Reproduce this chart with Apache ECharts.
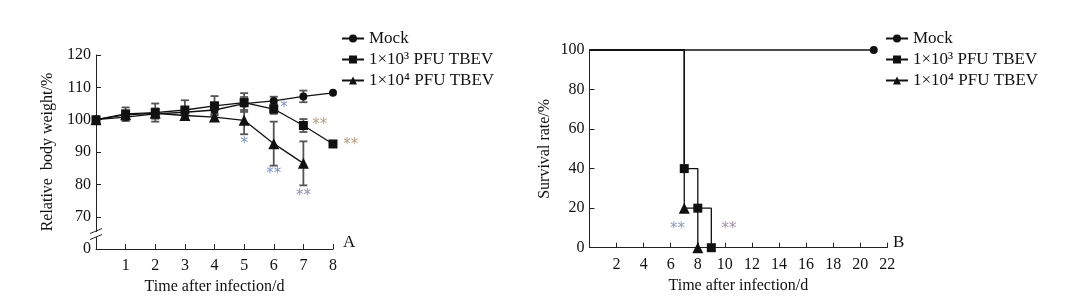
<!DOCTYPE html>
<html><head><meta charset="utf-8">
<script src="https://cdn.jsdelivr.net/npm/echarts@6/dist/echarts.min.js"></script>
<style>html,body{margin:0;padding:0;background:#fff}#c{width:1081px;height:300px}</style>
</head><body><div id="c"></div>
<script>
// ---- Panel A data ----
const daysA = [0,1,2,3,4,5,6,7,8];
const mockA = [100,100.8,101.8,102.3,103,105,105.8,107.2,108.3];
const mockErrA = [0,1.2,1.5,1.5,1.5,2,1.3,1.8,0];
const lowA = [100,101.8,102.2,103,104.3,105.3,103.3,98.2,92.5];
const lowErrA = [0,2,2.8,3,3,2.9,1.5,2,0];
const highA = [100,101.5,102,101.3,100.8,99.8,92.6,86.5];
const highErrA = [0,1,1.5,1,1.2,4.3,6.8,6.8];
const yTicksA = [60,70,80,90,100,110,120];
const yLabelsA = ['0','70','80','90','100','110','120'];
const starsA = [[6.35,103.5,'*','#5f78b0'],[7.55,98.3,'**','#a4865f'],[8.6,92.3,'**','#a4865f'],[5,92.4,'*','#5f78b0'],[6,83.1,'**','#5f78b0'],[7,76.5,'**','#7a6e9e']];
// ---- Panel B data ----
const mockB = [[0,100],[21,100]];
const lowB = [[0,100],[7,40],[8,20],[9,0]];
const highB = [[0,100],[7,20],[8,0]];
const starsB = [[6.5,9.3,'**','#6f7fa6'],[10.3,9.3,'**','#8a7496']];

const names = ['Mock','1×10³ PFU TBEV','1×10⁴ PFU TBEV'];
const font = 'Liberation Serif';
const txt = {fontFamily:font,fontSize:16,color:'#111'};

function errSeries(xs, ys, es){
  return {type:'custom',xAxisIndex:0,yAxisIndex:0,silent:true,z:1,
    data: ys.map((v,i)=>[xs[i], v-es[i], v+es[i]]).filter(d=>d[2]>d[1]),
    renderItem:(p,api)=>{
      const a=api.coord([api.value(0),api.value(1)]), b=api.coord([api.value(0),api.value(2)]);
      const w=4, st={stroke:'#555',lineWidth:1.8};
      return {type:'group',children:[
        {type:'line',shape:{x1:a[0],y1:a[1],x2:b[0],y2:b[1]},style:st},
        {type:'line',shape:{x1:a[0]-w,y1:a[1],x2:a[0]+w,y2:a[1]},style:st},
        {type:'line',shape:{x1:b[0]-w,y1:b[1],x2:b[0]+w,y2:b[1]},style:st}]};
    }};
}
function starSeries(arr, xi){
  return {type:'scatter',xAxisIndex:xi,yAxisIndex:xi,symbolSize:0,silent:true,clip:false,z:6,
    data: arr.map(d=>({value:[d[0],d[1]],label:{show:true,position:'inside',formatter:d[2],color:d[3],fontFamily:'DejaVu Sans',fontSize:15}}))};
}
const lineStyle={color:'#111',width:1.3};
const itemStyle={color:'#111'};
function axisX(gi,max,interval){
  return {type:'value',gridIndex:gi,min:0,max:max,interval:interval,
    name:'Time after infection/d',nameLocation:'middle',nameGap:26,nameTextStyle:txt,
    axisLine:{lineStyle:{color:'#222',width:1}},axisTick:{inside:true,length:5,lineStyle:{color:'#222'}},
    axisLabel:Object.assign({},txt,{margin:9,formatter:v=>v===0?'':String(v)}),splitLine:{show:false}};
}
const chart = echarts.init(document.getElementById('c'),null,{renderer:'canvas'});
chart.setOption({
  animation:false,
  grid:[{left:96,right:748,top:55,bottom:49},{left:589.5,right:193.7,top:50,bottom:52.3}],
  xAxis:[axisX(0,8,1),axisX(1,22,2)],
  yAxis:[
    {type:'value',gridIndex:0,min:60,max:120,interval:10,name:'Relative  body weight/%',nameLocation:'middle',nameGap:40,nameTextStyle:txt,
     axisLine:{lineStyle:{color:'#222'}},axisTick:{inside:true,length:5,lineStyle:{color:'#222'}},
     axisLabel:Object.assign({},txt,{margin:5,formatter:v=>yLabelsA[yTicksA.indexOf(v)]}),splitLine:{show:false}},
    {type:'value',gridIndex:1,min:0,max:100,interval:20,name:'Survival rate/%',nameLocation:'middle',nameGap:37,nameTextStyle:txt,
     axisLine:{lineStyle:{color:'#222'}},axisTick:{inside:true,length:5,lineStyle:{color:'#222'}},
     axisLabel:Object.assign({},txt,{margin:5}),splitLine:{show:false}}
  ],
  legend:[
    {left:336,top:25,orient:'vertical',itemWidth:22,itemHeight:10,itemGap:4,textStyle:Object.assign({},txt,{fontSize:17}),data:names,selectedMode:false},
    {left:880,top:25,orient:'vertical',itemWidth:22,itemHeight:10,itemGap:4,textStyle:Object.assign({},txt,{fontSize:17}),data:names,selectedMode:false}
  ],
  graphic:[
    {type:'text',left:343,top:234,style:{text:'A',font:'17px "Liberation Serif"',fill:'#111'}},
    {type:'text',left:893,top:234,style:{text:'B',font:'17px "Liberation Serif"',fill:'#111'}}
  ],
  series:[
    errSeries(daysA,mockA,mockErrA),
    errSeries(daysA,lowA,lowErrA),
    errSeries(daysA.slice(0,highA.length),highA,highErrA),
    {name:names[0],type:'line',xAxisIndex:0,yAxisIndex:0,data:mockA.map((v,i)=>[daysA[i],v]),symbol:'circle',symbolSize:8,lineStyle,itemStyle,z:3},
    {name:names[1],type:'line',xAxisIndex:0,yAxisIndex:0,data:lowA.map((v,i)=>[daysA[i],v]),symbol:'rect',symbolSize:9,lineStyle,itemStyle,z:3},
    {name:names[2],type:'line',xAxisIndex:0,yAxisIndex:0,data:highA.map((v,i)=>[daysA[i],v]),symbol:'triangle',symbolSize:11,lineStyle,itemStyle,z:3},
    starSeries(starsA,0),
    {type:'custom',xAxisIndex:0,yAxisIndex:0,silent:true,clip:false,z:5,data:[[0,64.5]],
     renderItem:(p,api)=>{const c=api.coord([api.value(0),api.value(1)]);
       return {type:'group',children:[
         {type:'rect',shape:{x:c[0]-2,y:c[1]-2.5,width:4,height:5},style:{fill:'#fff'}},
         {type:'line',shape:{x1:c[0]-6,y1:c[1]-1,x2:c[0]+6,y2:c[1]-6},style:{stroke:'#222',lineWidth:1}},
         {type:'line',shape:{x1:c[0]-6,y1:c[1]+5,x2:c[0]+6,y2:c[1]}, style:{stroke:'#222',lineWidth:1}}]};}},
    {name:names[0],type:'line',xAxisIndex:1,yAxisIndex:1,data:mockB.map((d,i)=>({value:d,symbol:i===0?'none':'circle'})),symbolSize:8,lineStyle,itemStyle,clip:false},
    {name:names[1],type:'line',xAxisIndex:1,yAxisIndex:1,step:'end',data:lowB.map((d,i)=>({value:d,symbol:i===0?'none':'rect'})),symbolSize:9,lineStyle,itemStyle,clip:false},
    {name:names[2],type:'line',xAxisIndex:1,yAxisIndex:1,step:'end',data:highB.map((d,i)=>({value:d,symbol:i===0?'none':'triangle'})),symbolSize:11,lineStyle,itemStyle,clip:false},
    starSeries(starsB,1)
  ]
});
</script></body></html>
